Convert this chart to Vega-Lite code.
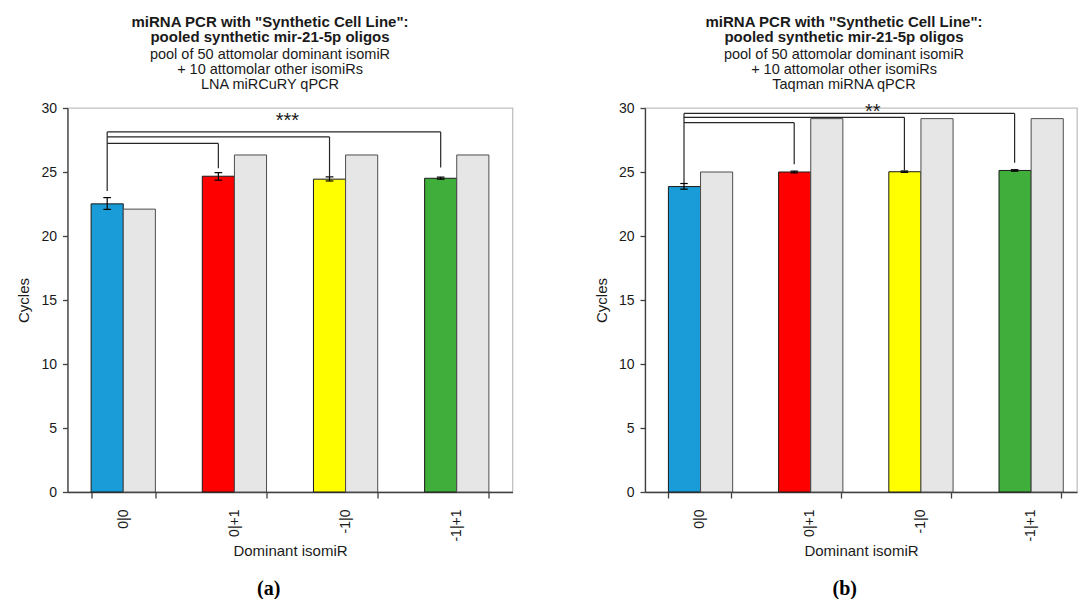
{
  "$schema": "https://vega.github.io/schema/vega-lite/v6.json",
  "padding": {"left": 15.5, "top": 13, "right": 0, "bottom": 0},
  "background": "white",
  "config": {
    "font": "Liberation Sans",
    "view": {"stroke": "#c0c0c0", "strokeWidth": 1.3},
    "concat": {"spacing": 79.5},
    "axis": {
      "domainColor": "#404040", "tickColor": "#404040", "domainWidth": 1.3, "tickWidth": 1.3,
      "labelColor": "#1a1a1a", "titleColor": "#1a1a1a", "labelFontSize": 14, "titleFontSize": 15,
      "titleFontWeight": "normal", "grid": false, "labelFont": "Liberation Sans", "titleFont": "Liberation Sans"
    },
    "title": {
      "font": "Liberation Sans", "subtitleFont": "Liberation Sans", "fontSize": 15, "fontWeight": "bold",
      "subtitleFontSize": 14.5, "lineHeight": 15.5, "subtitleLineHeight": 15, "color": "#1a1a1a",
      "subtitleColor": "#1a1a1a", "subtitlePadding": 2.5, "offset": 10, "anchor": "middle"
    }
  },
  "datasets": {
    "bars_a": [
      {"iso": "0|0", "type": "dominant", "value": 22.51},
      {"iso": "0|0", "type": "other", "value": 22.1},
      {"iso": "0|+1", "type": "dominant", "value": 24.67},
      {"iso": "0|+1", "type": "other", "value": 26.33},
      {"iso": "-1|0", "type": "dominant", "value": 24.44},
      {"iso": "-1|0", "type": "other", "value": 26.33},
      {"iso": "-1|+1", "type": "dominant", "value": 24.51},
      {"iso": "-1|+1", "type": "other", "value": 26.33}
    ],
    "err_a": [
      {"iso": "0|0", "lo": 22.08, "hi": 23.0},
      {"iso": "0|+1", "lo": 24.36, "hi": 24.95},
      {"iso": "-1|0", "lo": 24.3, "hi": 24.62},
      {"iso": "-1|+1", "lo": 24.44, "hi": 24.6}
    ],
    "br_a": [
      {"from": "0|0", "to": "0|+1", "level": 27.23, "end": 25.3},
      {"from": "0|0", "to": "-1|0", "level": 27.74, "end": 24.65},
      {"from": "0|0", "to": "-1|+1", "level": 28.13, "end": 25.36}
    ],
    "stem_a": [{"iso": "0|0", "top": 28.13, "bottom": 23.51}],
    "sig_a": [{"iso": "-1|0", "label": "***", "y": 28.5}],
    "bars_b": [
      {"iso": "0|0", "type": "dominant", "value": 23.86},
      {"iso": "0|0", "type": "other", "value": 25.0},
      {"iso": "0|+1", "type": "dominant", "value": 25.0},
      {"iso": "0|+1", "type": "other", "value": 29.17},
      {"iso": "-1|0", "type": "dominant", "value": 25.02},
      {"iso": "-1|0", "type": "other", "value": 29.17},
      {"iso": "-1|+1", "type": "dominant", "value": 25.12},
      {"iso": "-1|+1", "type": "other", "value": 29.17}
    ],
    "err_b": [
      {"iso": "0|0", "lo": 23.66, "hi": 24.1},
      {"iso": "0|+1", "lo": 24.93, "hi": 25.07},
      {"iso": "-1|0", "lo": 24.97, "hi": 25.08},
      {"iso": "-1|+1", "lo": 25.06, "hi": 25.18}
    ],
    "br_b": [
      {"from": "0|0", "to": "0|+1", "level": 28.85, "end": 25.6},
      {"from": "0|0", "to": "-1|0", "level": 29.27, "end": 25.1},
      {"from": "0|0", "to": "-1|+1", "level": 29.58, "end": 25.73}
    ],
    "stem_b": [{"iso": "0|0", "top": 29.58, "bottom": 24.15}],
    "sig_b": [{"iso": "-1|0", "label": "**", "y": 29.25}]
  },
  "hconcat": [
    {
      "title": {"text": "(a)", "orient": "bottom", "font": "Liberation Serif", "fontSize": 20, "fontWeight": "bold", "offset": 20, "dx": 4, "color": "#000"},
      "vconcat": [
        {
          "width": 445,
          "height": 384,
          "title": {
            "text": ["miRNA PCR with \"Synthetic Cell Line\":", "pooled  synthetic  mir-21-5p oligos"],
            "subtitle": ["pool of 50 attomolar dominant isomiR", "+ 10 attomolar other isomiRs", "LNA miRCuRY qPCR"],
            "dx": -20
          },
          "layer": [
            {
              "data": {"name": "bars_a"},
              "mark": {"type": "bar", "strokeWidth": 1},
              "encoding": {
                "x": {"field": "iso", "type": "nominal", "title": "Dominant isomiR",
                  "scale": {"domain": ["0|0", "0|+1", "-1|0", "-1|+1"], "paddingInner": 0.422, "paddingOuter": 0.2125},
                  "axis": {"tickBand": "extent", "labelAngle": -90, "labelAlign": "right", "labelBaseline": "middle", "labelPadding": 11, "tickSize": 6, "titlePadding": 2}},
                "xOffset": {"field": "type", "type": "nominal", "scale": {"domain": ["dominant", "other"], "paddingInner": 0, "paddingOuter": 0}},
                "y": {"field": "value", "type": "quantitative", "title": "Cycles",
                  "scale": {"domain": [0, 30]},
                  "axis": {"values": [0, 5, 10, 15, 20, 25, 30], "tickSize": 5, "labelPadding": 6, "titlePadding": 9}},
                "fill": {"field": "iso", "type": "nominal", "legend": null,
                  "scale": {"domain": ["0|0", "0|+1", "-1|0", "-1|+1"], "range": ["#1a9cd8", "#ff0000", "#ffff00", "#40ae3a"]},
                  "condition": {"test": "datum.type === 'other'", "value": "#e6e6e6"}},
                "stroke": {"condition": {"test": "datum.type === 'other'", "value": "#4d4d4d"}, "value": "#1a1a1a"}
              }
            },
            {
              "data": {"name": "err_a"},
              "mark": {"type": "rule", "color": "#000", "strokeWidth": 1.2},
              "encoding": {
                "x": {"field": "iso", "type": "nominal", "bandPosition": 0.25, "title": "Dominant isomiR"},
                "y": {"field": "lo", "type": "quantitative", "title": "Cycles"},
                "y2": {"field": "hi"}
              }
            },
            {
              "data": {"name": "err_a"},
              "mark": {"type": "rule", "color": "#000", "strokeWidth": 1.2},
              "encoding": {
                "x": {"field": "iso", "type": "nominal", "bandPosition": 0.19, "title": "Dominant isomiR"},
                "x2": {"field": "iso", "bandPosition": 0.31},
                "y": {"field": "lo", "type": "quantitative", "title": "Cycles"}
              }
            },
            {
              "data": {"name": "err_a"},
              "mark": {"type": "rule", "color": "#000", "strokeWidth": 1.2},
              "encoding": {
                "x": {"field": "iso", "type": "nominal", "bandPosition": 0.19, "title": "Dominant isomiR"},
                "x2": {"field": "iso", "bandPosition": 0.31},
                "y": {"field": "hi", "type": "quantitative", "title": "Cycles"}
              }
            },
            {
              "data": {"name": "br_a"},
              "mark": {"type": "rule", "color": "#262626", "strokeWidth": 1.2},
              "encoding": {
                "x": {"field": "from", "type": "nominal", "bandPosition": 0.25, "title": "Dominant isomiR"},
                "x2": {"field": "to", "bandPosition": 0.25},
                "y": {"field": "level", "type": "quantitative", "title": "Cycles"}
              }
            },
            {
              "data": {"name": "br_a"},
              "mark": {"type": "rule", "color": "#262626", "strokeWidth": 1.2},
              "encoding": {
                "x": {"field": "to", "type": "nominal", "bandPosition": 0.25, "title": "Dominant isomiR"},
                "y": {"field": "level", "type": "quantitative", "title": "Cycles"},
                "y2": {"field": "end"}
              }
            },
            {
              "data": {"name": "stem_a"},
              "mark": {"type": "rule", "color": "#262626", "strokeWidth": 1.2},
              "encoding": {
                "x": {"field": "iso", "type": "nominal", "bandPosition": 0.25, "title": "Dominant isomiR"},
                "y": {"field": "top", "type": "quantitative", "title": "Cycles"},
                "y2": {"field": "bottom"}
              }
            },
            {
              "data": {"name": "sig_a"},
              "mark": {"type": "text", "fontSize": 20, "dx": -26, "align": "center", "baseline": "alphabetic", "color": "#1a1a1a"},
              "encoding": {
                "x": {"field": "iso", "type": "nominal", "bandPosition": 0, "title": "Dominant isomiR"},
                "y": {"field": "y", "type": "quantitative", "title": "Cycles"},
                "text": {"field": "label"}
              }
            }
          ]
        }
      ]
    },
    {
      "title": {"text": "(b)", "orient": "bottom", "font": "Liberation Serif", "fontSize": 20, "fontWeight": "bold", "offset": 20, "dx": 9, "color": "#000"},
      "vconcat": [
        {
          "width": 432,
          "height": 384,
          "title": {
            "text": ["miRNA PCR with \"Synthetic Cell Line\":", "pooled  synthetic  mir-21-5p oligos"],
            "subtitle": ["pool of 50 attomolar dominant isomiR", "+ 10 attomolar other isomiRs", "Taqman miRNA qPCR"],
            "dx": -17
          },
          "layer": [
            {
              "data": {"name": "bars_b"},
              "mark": {"type": "bar", "strokeWidth": 1},
              "encoding": {
                "x": {"field": "iso", "type": "nominal", "title": "Dominant isomiR",
                  "scale": {"domain": ["0|0", "0|+1", "-1|0", "-1|+1"], "paddingInner": 0.434, "paddingOuter": 0.177, "align": 0.6},
                  "axis": {"tickBand": "extent", "labelAngle": -90, "labelAlign": "right", "labelBaseline": "middle", "labelPadding": 11, "tickSize": 6, "titlePadding": 2}},
                "xOffset": {"field": "type", "type": "nominal", "scale": {"domain": ["dominant", "other"], "paddingInner": 0, "paddingOuter": 0}},
                "y": {"field": "value", "type": "quantitative", "title": "Cycles",
                  "scale": {"domain": [0, 30]},
                  "axis": {"values": [0, 5, 10, 15, 20, 25, 30], "tickSize": 5, "labelPadding": 6, "titlePadding": 9}},
                "fill": {"field": "iso", "type": "nominal", "legend": null,
                  "scale": {"domain": ["0|0", "0|+1", "-1|0", "-1|+1"], "range": ["#1a9cd8", "#ff0000", "#ffff00", "#40ae3a"]},
                  "condition": {"test": "datum.type === 'other'", "value": "#e6e6e6"}},
                "stroke": {"condition": {"test": "datum.type === 'other'", "value": "#4d4d4d"}, "value": "#1a1a1a"}
              }
            },
            {
              "data": {"name": "err_b"},
              "mark": {"type": "rule", "color": "#000", "strokeWidth": 1.2},
              "encoding": {
                "x": {"field": "iso", "type": "nominal", "bandPosition": 0.25, "title": "Dominant isomiR"},
                "y": {"field": "lo", "type": "quantitative", "title": "Cycles"},
                "y2": {"field": "hi"}
              }
            },
            {
              "data": {"name": "err_b"},
              "mark": {"type": "rule", "color": "#000", "strokeWidth": 1.2},
              "encoding": {
                "x": {"field": "iso", "type": "nominal", "bandPosition": 0.19, "title": "Dominant isomiR"},
                "x2": {"field": "iso", "bandPosition": 0.31},
                "y": {"field": "lo", "type": "quantitative", "title": "Cycles"}
              }
            },
            {
              "data": {"name": "err_b"},
              "mark": {"type": "rule", "color": "#000", "strokeWidth": 1.2},
              "encoding": {
                "x": {"field": "iso", "type": "nominal", "bandPosition": 0.19, "title": "Dominant isomiR"},
                "x2": {"field": "iso", "bandPosition": 0.31},
                "y": {"field": "hi", "type": "quantitative", "title": "Cycles"}
              }
            },
            {
              "data": {"name": "br_b"},
              "mark": {"type": "rule", "color": "#262626", "strokeWidth": 1.2},
              "encoding": {
                "x": {"field": "from", "type": "nominal", "bandPosition": 0.25, "title": "Dominant isomiR"},
                "x2": {"field": "to", "bandPosition": 0.25},
                "y": {"field": "level", "type": "quantitative", "title": "Cycles"}
              }
            },
            {
              "data": {"name": "br_b"},
              "mark": {"type": "rule", "color": "#262626", "strokeWidth": 1.2},
              "encoding": {
                "x": {"field": "to", "type": "nominal", "bandPosition": 0.25, "title": "Dominant isomiR"},
                "y": {"field": "level", "type": "quantitative", "title": "Cycles"},
                "y2": {"field": "end"}
              }
            },
            {
              "data": {"name": "stem_b"},
              "mark": {"type": "rule", "color": "#262626", "strokeWidth": 1.2},
              "encoding": {
                "x": {"field": "iso", "type": "nominal", "bandPosition": 0.25, "title": "Dominant isomiR"},
                "y": {"field": "top", "type": "quantitative", "title": "Cycles"},
                "y2": {"field": "bottom"}
              }
            },
            {
              "data": {"name": "sig_b"},
              "mark": {"type": "text", "fontSize": 20, "dx": -16, "align": "center", "baseline": "alphabetic", "color": "#1a1a1a"},
              "encoding": {
                "x": {"field": "iso", "type": "nominal", "bandPosition": 0, "title": "Dominant isomiR"},
                "y": {"field": "y", "type": "quantitative", "title": "Cycles"},
                "text": {"field": "label"}
              }
            }
          ]
        }
      ]
    }
  ]
}
